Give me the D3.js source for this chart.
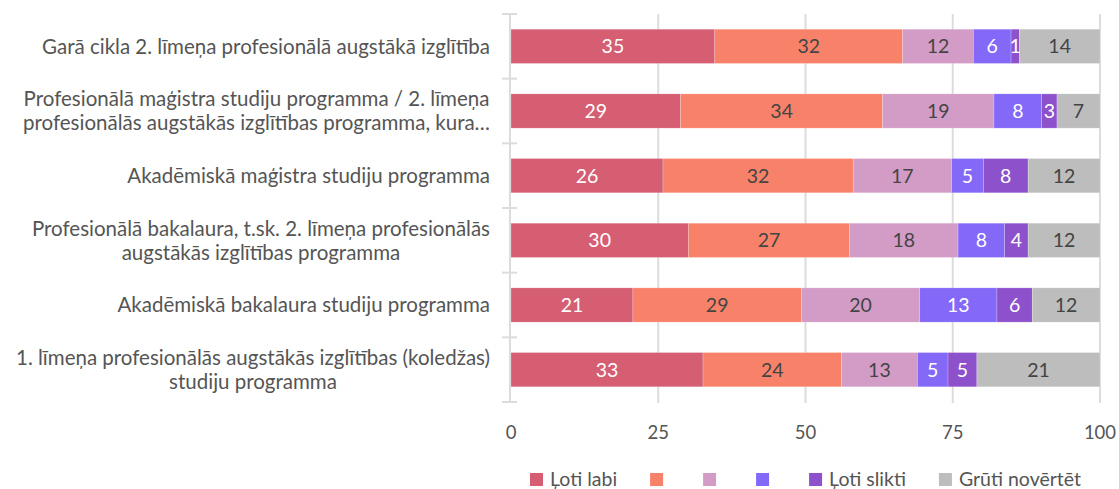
<!DOCTYPE html>
<meta charset="utf-8">
<script src="https://d3js.org/d3.v7.min.js"></script>
<style>
  body { margin: 0; background: #fff; }
  text { font-family: "Source Sans Pro", Lato, sans-serif; }
</style>
<div id="my_dataviz"></div>
<script>
  // categories (top to bottom), each label split into lines
  var categories = [
    ["Garā cikla 2. līmeņa profesionālā augstākā izglītība"],
    ["Profesionālā maģistra studiju programma / 2. līmeņa", "profesionālās augstākās izglītības programma, kura…"],
    ["Akadēmiskā maģistra studiju programma"],
    ["Profesionālā bakalaura, t.sk. 2. līmeņa profesionālās", "augstākās izglītības programma"],
    ["Akadēmiskā bakalaura studiju programma"],
    ["1. līmeņa profesionālās augstākās izglītības (koledžas)", "studiju programma"]
  ];

  var seriesNames = ["Ļoti labi", "", " ", "  ", "Ļoti slikti", "Grūti novērtēt"];
  var colors = ["#d55e72", "#f88269", "#d39cc6", "#8468f8", "#8e51cc", "#bdbdbd"];
  var labelColors = ["#fff", "#444", "#444", "#fff", "#fff", "#444"];

  // percentages per series, one value per category
  var s1 = [34.6, 28.8, 25.8, 30.1, 20.7, 32.6];
  var s2 = [31.9, 34.3, 32.3, 27.4, 28.6, 23.5];
  var s3 = [12.0, 18.9, 16.7, 18.4, 20.1, 12.9];
  var s4 = [6.4, 8.1, 5.4, 7.9, 13.1, 5.2];
  var s5 = [1.4, 2.6, 7.6, 4.0, 6.0, 4.9];
  var s6 = [13.7, 7.3, 12.2, 12.2, 11.5, 20.9];
  var series = [s1, s2, s3, s4, s5, s6];

  var xTicks = [0, 25, 50, 75, 100];

  var W = 1119, H = 489;
  var plot = {left: 511, right: 1100, top: 14, bottom: 402};

  var svg = d3.select("#my_dataviz").append("svg")
    .attr("width", W).attr("height", H);

  var x = d3.scaleLinear().domain([0, 100]).range([plot.left, plot.right]);
  var y = d3.scaleBand()
    .domain(d3.range(categories.length))
    .range([plot.top, plot.bottom])
    .paddingInner(0.47).paddingOuter(0.235);

  // grid lines
  svg.append("g").selectAll("line")
    .data(xTicks.slice(1))
    .enter().append("line")
      .attr("x1", d => x(d)).attr("x2", d => x(d))
      .attr("y1", plot.top).attr("y2", plot.bottom + 1)
      .attr("stroke", "#dcdcdc").attr("stroke-width", 2);

  // x tick labels
  svg.append("g").selectAll("text")
    .data(xTicks)
    .enter().append("text")
      .attr("x", d => x(d)).attr("y", 439)
      .attr("text-anchor", "middle")
      .attr("fill", "#555").style("font-size", "18.5px")
      .text(d => d);

  // stacked data
  var rows = categories.map(function(c, i) {
    var acc = 0;
    return series.map(function(s, k) {
      var seg = {row: i, k: k, v: s[i], x0: acc, x1: acc + s[i]};
      acc += s[i];
      return seg;
    });
  });
  var segs = rows.flat();

  svg.append("g").selectAll("rect")
    .data(segs)
    .enter().append("rect")
      .attr("x", d => x(d.x0))
      .attr("y", d => y(d.row))
      .attr("width", d => x(d.x1) - x(d.x0))
      .attr("height", y.bandwidth())
      .attr("fill", d => colors[d.k])
      .attr("stroke", "#fff").attr("stroke-opacity", 0.35).attr("stroke-width", 0.6);

  svg.append("g").selectAll("text")
    .data(segs)
    .enter().append("text")
      .attr("x", d => x((d.x0 + d.x1) / 2))
      .attr("y", d => y(d.row) + y.bandwidth() / 2)
      .attr("dy", "0.36em")
      .attr("text-anchor", "middle")
      .attr("fill", d => labelColors[d.k])
      .style("font-size", "19.5px")
      .text(d => Math.round(d.v));

  // y axis line and ticks
  var axis = svg.append("g");
  axis.append("line")
    .attr("x1", plot.left - 1).attr("x2", plot.left - 1)
    .attr("y1", plot.top).attr("y2", plot.bottom + 1)
    .attr("stroke", "#dcdcdc").attr("stroke-width", 2);
  var bounds = d3.range(categories.length + 1).map(function(i) {
    return i === 0 ? plot.top : (i === categories.length ? plot.bottom : y(i) - y.step() * y.paddingInner() / 2);
  });
  axis.selectAll(".tick").data(bounds).enter().append("line")
    .attr("x1", plot.left - 9).attr("x2", plot.left + 6)
    .attr("y1", d => d).attr("y2", d => d)
    .attr("stroke", "#dcdcdc").attr("stroke-width", 2);

  // category labels
  var labelG = svg.append("g");
  categories.forEach(function(lines, i) {
    var g = labelG.append("g");
    var cy = y(i) + y.bandwidth() / 2;
    var lh = 24;
    var t = g.selectAll("text").data(lines).enter().append("text")
      .attr("y", (d, j) => cy + (j - (lines.length - 1) / 2) * lh)
      .attr("dy", "0.35em")
      .attr("fill", "#555")
      .style("font-size", "20.5px")
      .attr("text-anchor", "middle")
      .text(d => d);
    var maxW = d3.max(t.nodes(), n => n.getComputedTextLength());
    t.attr("x", 490 - maxW / 2);
  });

  // legend
  var legend = svg.append("g");
  var lx = 0;
  seriesNames.forEach(function(name, k) {
    var item = legend.append("g").attr("transform", "translate(" + lx + ",0)");
    item.append("rect").attr("x", 0).attr("y", -6).attr("width", 13).attr("height", 13)
      .attr("fill", colors[k]);
    var tx = item.append("text").attr("x", 20).attr("y", 0).attr("dy", "0.36em")
      .attr("fill", "#555").style("font-size", "19.5px").text(name.trim());
    lx += 20 + tx.node().getComputedTextLength() + 33;
  });
  var legW = lx - 33;
  legend.attr("transform", "translate(" + ((plot.left + plot.right) / 2 - legW / 2) + "," + 479 + ")");
</script>
